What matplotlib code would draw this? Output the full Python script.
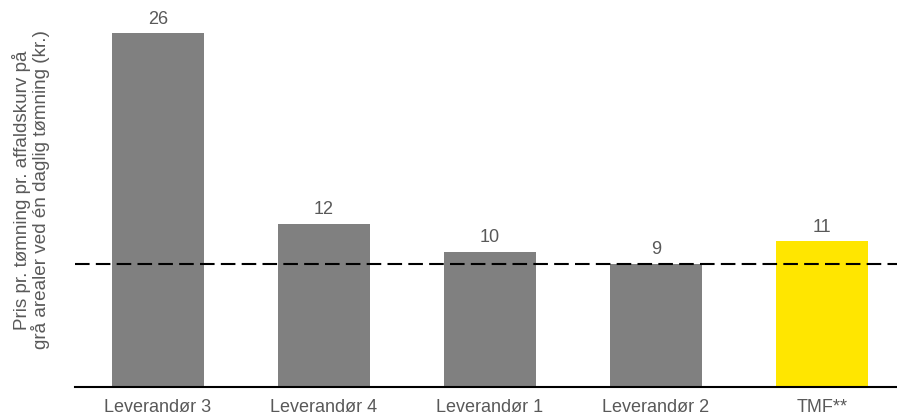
import matplotlib
matplotlib.use("Agg")
import matplotlib.pyplot as plt

categories = ["Leverandør 3", "Leverandør 4", "Leverandør 1", "Leverandør 2", "TMF**"]
values = [26, 12, 9.95, 9.05, 10.7]
bar_colors = ["#808080", "#808080", "#808080", "#808080", "#FFE600"]
reference_value = 9.05
ylabel = "Pris pr. tømning pr. affaldskurv på\ngrå arealer ved én daglig tømning (kr.)"

plt.rcParams['font.family'] = ['Liberation Sans', 'DejaVu Sans']

fig = plt.figure(figsize=(8.97, 4.15), dpi=100)
ax = fig.add_axes([75/897, 1 - 387/415, 822/897, 387/415])

x = list(range(len(categories)))
bars = ax.bar(x, values, width=0.555, color=bar_colors, zorder=2)
for xi, v in zip(x, values):
    ax.annotate(f"{v:.0f}", (xi, v), xytext=(0, 4), textcoords="offset points",
                ha="center", va="bottom", fontsize=13, color="#595959")

ax.axhline(reference_value, color="black", lw=1.5, linestyle=(0, (7, 3)), zorder=3)

ax.set_xlim(-0.5, -0.5 + 822/166)
ax.set_ylim(0, 387/13.6)
ax.set_xticks(x)
ax.set_xticklabels(categories, fontsize=13, color="#595959")
ax.tick_params(axis="x", length=0, pad=8.5)
ax.set_yticks([])
for s in ["top", "right", "left"]:
    ax.spines[s].set_visible(False)
ax.spines["bottom"].set_linewidth(1.5)
ax.spines["bottom"].set_color("black")
ax.set_ylabel(ylabel, fontsize=13.6, color="#595959", linespacing=1.0,
              ha="center", va="center")
ax.yaxis.set_label_coords((31 - 75) / 822, (387 - 190) / 387)

fig.savefig("out.png", dpi=100)
